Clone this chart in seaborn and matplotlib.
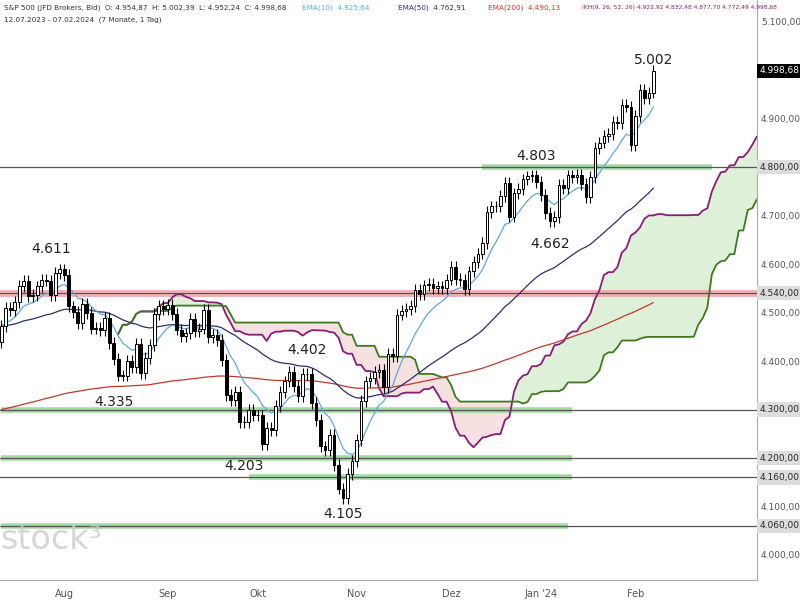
import numpy as np
import pandas as pd
import matplotlib
matplotlib.use("Agg")
import matplotlib.pyplot as plt
import seaborn as sns

# --- data (daily closes) ---
CLOSES = [4472, 4510, 4505, 4522, 4555, 4565, 4534, 4536, 4554, 4567, 4566, 4537, 4582, 4589,
          4577, 4513, 4501, 4478, 4518, 4499, 4467, 4468, 4464, 4489, 4437, 4404, 4370, 4370,
          4400, 4387, 4436, 4376, 4406, 4433, 4497, 4514, 4508,
          4516, 4497, 4465, 4451, 4457, 4487, 4462, 4467, 4505, 4450, 4454, 4444, 4402, 4330,
          4320, 4337, 4274, 4275, 4300, 4288,
          4288, 4229, 4263, 4258, 4308, 4336, 4358, 4377, 4349, 4327, 4374, 4373, 4314, 4278,
          4224, 4217, 4248, 4186, 4137, 4117, 4167, 4194,
          4237, 4318, 4358, 4365, 4378, 4382, 4347, 4415, 4411, 4496, 4503, 4508, 4514, 4547,
          4538, 4556, 4559, 4550, 4554, 4551, 4568,
          4595, 4569, 4567, 4549, 4585, 4604, 4622, 4644, 4707, 4719, 4719, 4740, 4768, 4698,
          4746, 4755, 4775, 4781, 4783, 4770,
          4743, 4705, 4689, 4697, 4764, 4757, 4783, 4780, 4784, 4766, 4739, 4780, 4840, 4851,
          4865, 4868, 4894, 4891, 4928, 4925, 4846,
          4906, 4959, 4943, 4954, 4999]
FIRST_OPEN = 4440
WICK = 12
HOLIDAYS = ["2023-09-04", "2023-11-23", "2023-12-25", "2024-01-01", "2024-01-15"]
MONTH_LABELS = ["Aug", "Sep", "Okt", "Nov", "Dez", "Jan '24", "Feb"]
PEAKS = [(11, 4611, "4.611"), (25, 4335, "4.335"), (68, 4402, "4.402"), (54, 4203, "4.203"),
         (76, 4105, "4.105"), (119, 4803, "4.803"), (122, 4662, "4.662"), (145, 5002, "5.002")]
# level, start index, end index
GREEN_LEVELS = [(4800, 107, 158), (4300, 0, 127), (4200, 0, 127), (4160, 55, 127), (4060, 0, 126)]
GREY_LEVELS = [4800, 4540, 4300, 4200, 4160, 4060]
RED_LEVEL = 4540


def de_fmt(v):
    return f"{v:,.2f}".replace(",", "X").replace(".", ",").replace("X", ".")


dates = pd.bdate_range("2023-07-12", "2024-02-07")
dates = dates[~dates.isin(pd.to_datetime(HOLIDAYS))]
df = pd.DataFrame({"date": dates, "close": CLOSES})
df["open"] = df["close"].shift(1).fillna(FIRST_OPEN)
df["high"] = df[["open", "close"]].max(axis=1) + WICK
df["low"] = df[["open", "close"]].min(axis=1) - WICK
df["x"] = np.arange(len(df))

# indicators
df["ema10"] = df["close"].ewm(span=10, adjust=False).mean()
df["ema50"] = df["close"].ewm(span=50, adjust=False).mean()
ema200 = [4300.0]
a = 2 / 201
for c in CLOSES[1:]:
    ema200.append(ema200[-1] + a * (c - ema200[-1]))
df["ema200"] = ema200


def mid(n):
    return (df["high"].rolling(n, min_periods=1).max() + df["low"].rolling(n, min_periods=1).min()) / 2


span_a = ((mid(9) + mid(26)) / 2).values
span_b = mid(52).values
cx = np.arange(len(df)) + 26

sns.set_style("white")
fig = plt.figure(figsize=(8, 6), dpi=100)
ax = fig.add_axes([0, 0.033, 0.946, 0.967])

ax.fill_between(cx, span_a, span_b, where=span_a >= span_b, color="#dff0d8", interpolate=True, lw=0)
ax.fill_between(cx, span_a, span_b, where=span_a < span_b, color="#f6e0e0", interpolate=True, lw=0)
sns.lineplot(x=cx, y=span_a, ax=ax, color="#8b1a7a", lw=1.3)
sns.lineplot(x=cx, y=span_b, ax=ax, color="#3d7a1e", lw=1.3)

for lvl in GREY_LEVELS:
    ax.axhline(lvl, color="#555555", lw=0.9, zorder=2)
ax.axhline(RED_LEVEL, color="#f0a0a0", lw=5, alpha=0.8, zorder=1)
for lvl, s, e in GREEN_LEVELS:
    ax.plot([s, e], [lvl, lvl], color="#8fd08f", lw=4, alpha=0.8, zorder=1, solid_capstyle="butt")

sns.lineplot(data=df, x="x", y="ema200", ax=ax, color="#c0392b", lw=0.9)
sns.lineplot(data=df, x="x", y="ema50", ax=ax, color="#2b2f6b", lw=0.9)
sns.lineplot(data=df, x="x", y="ema10", ax=ax, color="#5aa9e0", lw=0.9)

up = df["close"] >= df["open"]
ax.vlines(df["x"], df["low"], df["high"], color="black", lw=0.8, zorder=4)
body = (df["close"] - df["open"]).abs().clip(lower=1)
ax.bar(df["x"], body, bottom=df[["open", "close"]].min(axis=1), width=0.6,
       color=np.where(up, "white", "black"), edgecolor="black", lw=0.7, zorder=5)

for x, y, t in PEAKS:
    off = 20 if t in ("4.611", "4.402", "4.803", "5.002") else -20
    ax.text(x, y + off, t, ha="center", va="center", fontsize=10, color="#222222")

ax.set_xlim(-0.3, 168)
ax.set_ylim(3948, 5145)
ax.yaxis.tick_right()
yt = np.arange(4000, 5101, 100)
ax.set_yticks(yt)
ax.set_yticklabels(["" if v in GREY_LEVELS or v == 5000 else de_fmt(v) for v in yt],
                   fontsize=6.5, color="#555555")
ax.tick_params(axis="y", pad=3, length=0)
month_idx = [df.index[(df["date"].dt.month == m)][0] for m in [8, 9, 10, 11, 12, 1, 2]]
ax.set_xticks(month_idx)
ax.set_xticklabels(MONTH_LABELS, fontsize=7, color="#555555")
ax.tick_params(axis="x", length=3, color="#999999")
ax.set_xlabel("")
ax.set_ylabel("")
for s in ["top", "left"]:
    ax.spines[s].set_visible(False)
ax.spines["bottom"].set_color("#aaaaaa")
ax.spines["right"].set_color("#aaaaaa")

for lvl in GREY_LEVELS:
    ax.text(1.004, lvl, de_fmt(lvl), transform=ax.get_yaxis_transform(), fontsize=6.5,
            va="center", ha="left", bbox=dict(boxstyle="square,pad=0.3", fc="#dddddd", ec="none"))
ax.text(1.004, 4998.68, "4.998,68", transform=ax.get_yaxis_transform(), fontsize=6.5,
        va="center", ha="left", color="white", bbox=dict(boxstyle="square,pad=0.3", fc="black", ec="none"))

fig.text(0.005, 0.992, "S&P 500 (JFD Brokers, Bid)  O: 4.954,87  H: 5.002,39  L: 4.952,24  C: 4.998,68",
         fontsize=5.2, va="top", color="#333333")
fig.text(0.378, 0.992, "EMA(10)  4.925,64", fontsize=5.2, va="top", color="#5aa9e0")
fig.text(0.497, 0.992, "EMA(50)  4.762,91", fontsize=5.2, va="top", color="#2b2f6b")
fig.text(0.61, 0.992, "EMA(200)  4.490,13", fontsize=5.2, va="top", color="#c0392b")
fig.text(0.728, 0.992, "IKH(9, 26, 52, 26) 4.922,92 4.832,48 4.877,70 4.772,49 4.998,68",
         fontsize=4.3, va="top", color="#8b1a7a")
fig.text(0.005, 0.972, "12.07.2023 - 07.02.2024  (7 Monate, 1 Tag)", fontsize=5.2, va="top", color="#333333")
fig.text(0.0, 0.085, "stock³", fontsize=24, color="#cccccc", alpha=0.8)

fig.savefig("out.png", dpi=100)
